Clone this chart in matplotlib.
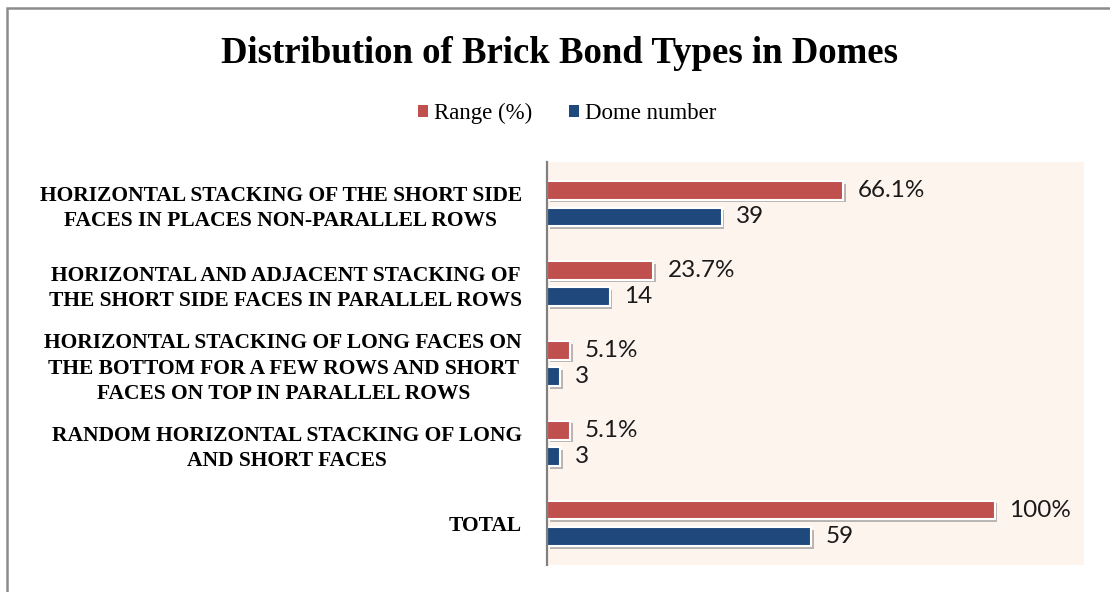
import matplotlib
matplotlib.use("Agg")
import matplotlib.pyplot as plt
import matplotlib.patheffects as pe
from matplotlib.patches import Rectangle
import numpy as np

categories = [
    "HORIZONTAL STACKING OF THE SHORT SIDE\nFACES IN PLACES NON-PARALLEL ROWS",
    "HORIZONTAL AND ADJACENT STACKING OF\nTHE SHORT SIDE FACES IN PARALLEL ROWS",
    "HORIZONTAL STACKING OF LONG FACES ON\nTHE BOTTOM FOR A FEW ROWS AND SHORT\nFACES ON TOP IN PARALLEL ROWS",
    "RANDOM HORIZONTAL STACKING OF LONG\nAND SHORT FACES",
    "TOTAL",
]
range_pct = [66.1, 23.7, 5.1, 5.1, 100]
dome_number = [39, 14, 3, 3, 59]
range_labels = ["66.1%", "23.7%", "5.1%", "5.1%", "100%"]
dome_labels = ["39", "14", "3", "3", "59"]

RED = "#C0504D"
BLUE = "#1F497D"
BG = "#FEF4EE"

fig = plt.figure(figsize=(11.1, 5.92), dpi=100)
ax = fig.add_axes([547 / 1110, 1 - 565 / 592, (1084 - 547) / 1110, (565 - 162) / 592])
ax.set_facecolor(BG)

y = np.arange(len(categories))
h = 0.235
off = 0.167

shadow = [pe.SimplePatchShadow(offset=(2, -2), shadow_rgbFace="#808080", alpha=0.55), pe.Normal()]

b1 = ax.barh(y - off, range_pct, height=h, color=RED, edgecolor="white", linewidth=1.5,
             label="Range (%)")
b2 = ax.barh(y + off, dome_number, height=h, color=BLUE, edgecolor="white", linewidth=1.5,
             label="Dome number")
for b in list(b1) + list(b2):
    b.set_path_effects(shadow)

vfont = dict(family=["Lato", "DejaVu Sans"], fontsize=17.5, color="#1a1a1a")
for bars, labs in ((b1, range_labels), (b2, dome_labels)):
    for rect, lab in zip(bars, labs):
        ax.annotate(lab, (rect.get_width(), rect.get_y() + rect.get_height() / 2),
                    xytext=(10.5, 0), textcoords="offset points", va="center", ha="left", **vfont)

ax.set_xlim(0, 120)
ax.set_ylim(len(categories) - 0.5 + 0.02, -0.5 - 0.02)
ax.set_xticks([])
ax.set_yticks(y)
ax.set_yticklabels(categories, family="Liberation Serif", fontweight="bold", fontsize=15.5,
                   linespacing=1.36)
for t in ax.get_yticklabels():
    t.set_multialignment("center")
ax.tick_params(axis="y", length=0, pad=18)
for s in ("top", "right", "bottom"):
    ax.spines[s].set_visible(False)
ax.spines["left"].set_color("#808080")
ax.spines["left"].set_linewidth(1.6)

fig.text(0.5045, 0.91, "Distribution of Brick Bond Types in Domes", ha="center", va="center",
         family="Liberation Serif", fontweight="bold", fontsize=26.5)

leg = fig.legend(handles=[b1, b2], loc="center", bbox_to_anchor=(0.511, 0.808), ncol=2,
                 frameon=False, prop=dict(family="Liberation Serif", size=16.5),
                 handlelength=0.45, handleheight=0.45, handletextpad=0.25, columnspacing=1.6)
for hnd in leg.legend_handles:
    hnd.set_path_effects([])
    hnd.set_edgecolor("none")

# outer frame (left and top edges visible)
fig.add_artist(Rectangle((7 / 1110, -0.1), 1.2, 1 - 8 / 592 + 0.1, transform=fig.transFigure,
                         fill=False, edgecolor="#8c8c8c", linewidth=1.8))

fig.savefig("out.png", dpi=100, facecolor="white")
